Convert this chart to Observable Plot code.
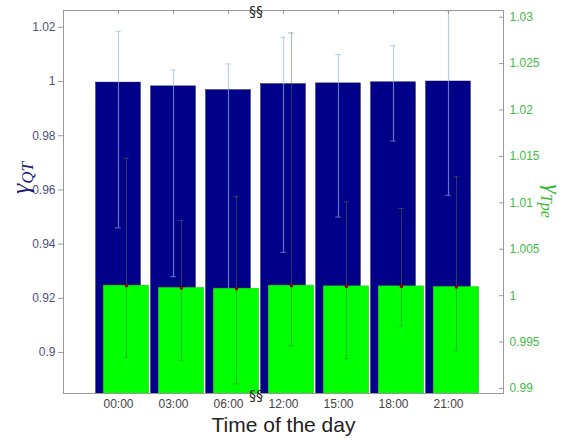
<!DOCTYPE html>
<html>
<head>
<meta charset="utf-8">
<script src="https://cdn.jsdelivr.net/npm/d3@7"></script>
<script src="https://cdn.jsdelivr.net/npm/@observablehq/plot@0.6"></script>
<style>
  body { margin: 0; background: #fff; }
  #chart { width: 566px; height: 441px; }
</style>
</head>
<body>
<div id="chart"></div>
<script>
// ---- data ----
const times = ["00:00", "03:00", "06:00", "12:00", "15:00", "18:00", "21:00"];
const gammaQT = [0.9996, 0.9982, 0.9968, 0.9990, 0.9993, 0.9997, 1.0000];
const gammaQTLow = [0.946, 0.928, 0.887, 0.937, 0.950, 0.978, 0.958];
const gammaQTHigh = [1.0185, 1.0043, 1.0065, 1.0163, 1.0099, 1.0132, 1.0260];
const gammaTpe = [1.00108, 1.00083, 1.00075, 1.00108, 1.0010, 1.0010, 1.00093];
const gammaTpeLow = [0.9933, 0.9930, 0.9905, 0.9946, 0.9932, 0.9967, 0.9941];
const gammaTpeHigh = [1.0148, 1.0081, 1.0107, 1.0283, 1.0101, 1.0094, 1.0128];
const leftTicks = [0.9, 0.92, 0.94, 0.96, 0.98, 1, 1.02];
const rightTicks = [0.99, 0.995, 1, 1.005, 1.01, 1.015, 1.02, 1.025, 1.03];
const breakMark = "§§";

// ---- scales ----
const leftDomain = [0.8849, 1.0262];
const rightDomain = [0.98946, 1.03072];
const toLeft = d3.scaleLinear().domain(rightDomain).range(leftDomain);
const toRight = toLeft.invert;

const rows = times.map((t, i) => ({
  t, pos: i + 1,
  qt: gammaQT[i], qtLo: gammaQTLow[i], qtHi: gammaQTHigh[i],
  tpe: toLeft(gammaTpe[i]), tpeLo: toLeft(gammaTpeLow[i]), tpeHi: toLeft(gammaTpeHigh[i])
}));

const blueHalf = 0.405, greenShift = 0.145, greenHalf = 0.413, cap = 0.05;
const fmtR = d3.format(".3~f");

const plot = Plot.plot({
  width: 566,
  height: 441,
  marginTop: 10,
  marginBottom: 48,
  marginLeft: 63,
  marginRight: 63,
  style: { fontFamily: "Arial, 'Liberation Sans', sans-serif", background: "#fff" },
  x: { domain: [0, 8], axis: null },
  y: { domain: leftDomain, axis: null },
  marks: [
    Plot.rectY(rows, { x1: d => d.pos - blueHalf, x2: d => d.pos + blueHalf, y1: 0.8, y2: "qt", fill: "#000088", stroke: "#000044", strokeWidth: 0.5, clip: true }),
    Plot.ruleX(rows, { x: "pos", y1: "qtLo", y2: "qtHi", stroke: "#8fb8e0", strokeOpacity: 0.65, strokeWidth: 1.2, clip: true }),
    Plot.ruleY(rows, { y: "qtHi", x1: d => d.pos - cap, x2: d => d.pos + cap, stroke: "#8fb8e0", strokeOpacity: 0.65, clip: true }),
    Plot.ruleY(rows, { y: "qtLo", x1: d => d.pos - cap, x2: d => d.pos + cap, stroke: "#8fb8e0", strokeOpacity: 0.65, clip: true }),
    Plot.rectY(rows, { x1: d => d.pos + greenShift - greenHalf, x2: d => d.pos + greenShift + greenHalf, y1: 0.8, y2: "tpe", fill: "#00ff00", stroke: "#22cc22", strokeWidth: 0.5, clip: true }),
    Plot.ruleX(rows, { x: d => d.pos + greenShift, y1: "tpeLo", y2: "tpeHi", stroke: "#4a7a4a", strokeOpacity: 0.5, clip: true }),
    Plot.ruleY(rows, { y: "tpeHi", x1: d => d.pos + greenShift - cap, x2: d => d.pos + greenShift + cap, stroke: "#4a7a4a", strokeOpacity: 0.5, clip: true }),
    Plot.ruleY(rows, { y: "tpeLo", x1: d => d.pos + greenShift - cap, x2: d => d.pos + greenShift + cap, stroke: "#4a7a4a", strokeOpacity: 0.5, clip: true }),
    Plot.dot(rows, { x: d => d.pos + greenShift, y: "tpe", r: 1.8, fill: "#a00000", stroke: "none" }),
    Plot.frame({ stroke: "#999" }),
    // top inward ticks
    Plot.ruleX(rows, { x: "pos", y1: leftDomain[1], y2: leftDomain[1] - 0.0015, stroke: "#999" }),
    // left axis
    Plot.axisY(leftTicks, { anchor: "left", tickSize: 5, tickPadding: 3, stroke: "#999", fill: "#505080", fontSize: 12, tickFormat: d => String(d), label: null }),
    // right axis ticks (inward) and labels
    Plot.ruleY(rightTicks, { y: d => toLeft(d), x1: 8 - 0.07, x2: 8, stroke: "#999" }),
    Plot.axisY(rightTicks.map(toLeft), { anchor: "right", tickSize: 0, tickPadding: 6, fill: "#44bb44", fontSize: 12, tickFormat: d => fmtR(toRight(d)), label: null }),
    // x axis labels
    Plot.axisX(rows.map(d => d.pos), { anchor: "bottom", tickSize: 0, tickPadding: 6, fill: "#444", fontSize: 12, tickFormat: d => times[d - 1], label: null }),
    Plot.text([breakMark], { x: 3.5, y: leftDomain[1], dy: 1, fontSize: 14, fill: "#222", fontFamily: "DejaVu Sans, sans-serif" }),
    Plot.text([breakMark], { x: 3.5, y: leftDomain[0], dy: 2, fontSize: 14, fill: "#222", fontFamily: "DejaVu Sans, sans-serif" }),
    Plot.text(["Time of the day"], { frameAnchor: "bottom", dy: 38, fontSize: 21, fill: "#222" })
  ]
});

document.getElementById("chart").appendChild(plot);

// axis titles with subscripts
const svg = d3.select(plot);
function addLabel(x, y, rot, main, sub, color, s1, s2) {
  const t = svg.append("text")
    .attr("transform", `translate(${x},${y}) rotate(${rot})`)
    .attr("text-anchor", "middle")
    .attr("fill", color)
    .style("font-family", "'Liberation Serif', 'DejaVu Serif', serif")
    .style("font-style", "italic");
  t.append("tspan").attr("font-size", s1).text(main);
  t.append("tspan").attr("font-size", s2).attr("dy", 4).text(sub);
}
addLabel(29, 178, -90, "γ", "QT", "#1c1c78", 26, 17);
addLabel(545, 201, 90, "γ", "Tpe", "#33bb33", 24, 16);
</script>
</body>
</html>
